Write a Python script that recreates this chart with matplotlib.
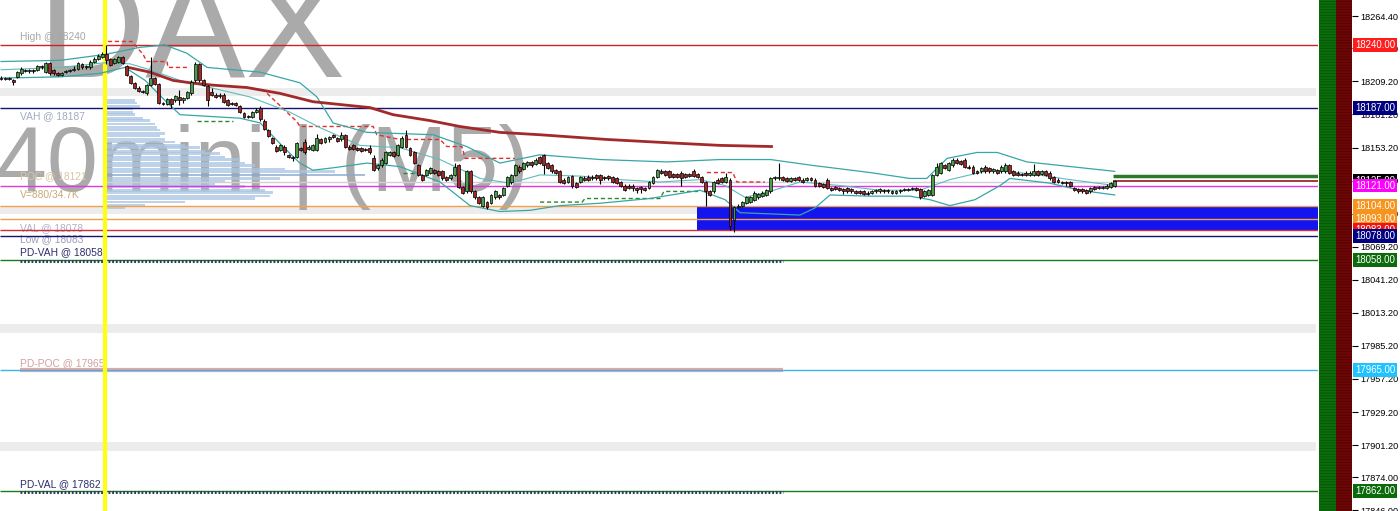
# coding: utf-8
import numpy as np
import matplotlib
matplotlib.use('Agg')
import matplotlib.pyplot as plt
import matplotlib.transforms as mtransforms
from matplotlib.patches import Rectangle

plt.rcParams['font.family'] = ['Liberation Sans', 'DejaVu Sans']
plt.rcParams['hatch.linewidth'] = 0.6

# ---- M5 candles (bar index 0..275) ----
opens = [
    18212, 18211, 18212, 18210, 18213, 18216, 18219, 18218, 18219, 18219,
    18222, 18217, 18225, 18219, 18216, 18215, 18217, 18218, 18219, 18220,
    18224, 18221, 18221, 18226, 18228, 18230, 18232, 18228, 18225, 18226,
    18230, 18222, 18214, 18208, 18204, 18201, 18199, 18206, 18212, 18207,
    18191, 18190, 18194, 18193, 18196, 18193, 18195, 18199, 18210, 18224,
    18210, 18205, 18200, 18198, 18197, 18198, 18193, 18191, 18191, 18188,
    18182, 18180, 18179, 18183, 18187, 18176, 18168, 18161, 18154, 18151,
    18154, 18147, 18145, 18145, 18153, 18158, 18152, 18151, 18151, 18160,
    18158, 18160, 18164, 18161, 18160, 18164, 18154, 18155, 18153, 18153,
    18152, 18153, 18144, 18136, 18138, 18140, 18147, 18149, 18147, 18154,
    18164, 18153, 18149, 18138, 18130, 18130, 18132, 18134, 18133, 18133,
    18128, 18127, 18130, 18138, 18120, 18116, 18133, 18116, 18111, 18104,
    18107, 18106, 18111, 18113, 18113, 18121, 18124, 18130, 18137, 18135,
    18138, 18141, 18139, 18145, 18147, 18140, 18138, 18134, 18133, 18126,
    18124, 18129, 18123, 18124, 18127, 18128, 18127, 18130, 18130, 18128,
    18129, 18128, 18127, 18124, 18121, 18121, 18121, 18119, 18120, 18119,
    18119, 18123, 18128, 18133, 18133, 18133, 18131, 18131, 18132, 18131,
    18131, 18133, 18131, 18128, 18124, 18116, 18116, 18126, 18127, 18124,
    18126, 18092, 18103, 18104, 18106, 18107, 18109, 18111, 18112, 18113,
    18116, 18127, 18127, 18128, 18127, 18125, 18127, 18128, 18126, 18126,
    18127, 18126, 18123, 18122, 18126, 18119, 18120, 18119, 18118, 18119,
    18118, 18116, 18116, 18116, 18115, 18115, 18116, 18116, 18117, 18116,
    18116, 18115, 18116, 18117, 18117, 18118, 18119, 18118, 18112, 18113,
    18113, 18130, 18132, 18138, 18134, 18138, 18143, 18142, 18143, 18137,
    18137, 18133, 18133, 18137, 18136, 18133, 18134, 18133, 18133, 18138,
    18133, 18132, 18131, 18132, 18130, 18130, 18133, 18131, 18133, 18132,
    18128, 18126, 18124, 18124, 18124, 18119, 18118, 18118, 18117, 18116,
    18120, 18119, 18119, 18119, 18120, 18121]
closes = [
    18211, 18212, 18211, 18209, 18217, 18220, 18218, 18219, 18218, 18222,
    18221, 18225, 18216, 18216, 18215, 18216, 18218, 18219, 18220, 18225,
    18221, 18222, 18226, 18228, 18231, 18232, 18227, 18223, 18228, 18230,
    18225, 18215, 18208, 18204, 18201, 18200, 18206, 18212, 18207, 18191,
    18190, 18194, 18190, 18197, 18193, 18195, 18200, 18209, 18224, 18210,
    18206, 18193, 18198, 18196, 18198, 18192, 18189, 18190, 18189, 18183,
    18179, 18179, 18183, 18185, 18177, 18169, 18163, 18157, 18150, 18155,
    18149, 18145, 18144, 18157, 18151, 18149, 18154, 18155, 18161, 18157,
    18161, 18162, 18162, 18159, 18164, 18154, 18152, 18152, 18151, 18150,
    18151, 18149, 18134, 18138, 18143, 18149, 18149, 18146, 18155, 18161,
    18154, 18147, 18140, 18130, 18126, 18134, 18136, 18132, 18130, 18127,
    18126, 18130, 18137, 18120, 18115, 18133, 18116, 18111, 18106, 18111,
    18103, 18113, 18116, 18111, 18119, 18128, 18130, 18138, 18133, 18140,
    18141, 18138, 18143, 18140, 18138, 18136, 18133, 18132, 18124, 18123,
    18128, 18121, 18120, 18128, 18126, 18126, 18128, 18127, 18126, 18127,
    18127, 18124, 18123, 18121, 18117, 18119, 18119, 18117, 18118, 18117,
    18124, 18128, 18134, 18132, 18130, 18128, 18128, 18128, 18127, 18128,
    18129, 18129, 18128, 18124, 18116, 18113, 18124, 18123, 18124, 18128,
    18087, 18103, 18104, 18107, 18111, 18111, 18115, 18114, 18115, 18117,
    18127, 18128, 18128, 18126, 18125, 18127, 18126, 18126, 18124, 18127,
    18126, 18121, 18121, 18120, 18119, 18117, 18118, 18117, 18116, 18116,
    18116, 18115, 18115, 18114, 18114, 18116, 18117, 18118, 18116, 18117,
    18115, 18116, 18117, 18118, 18118, 18119, 18117, 18111, 18116, 18117,
    18130, 18137, 18140, 18136, 18140, 18143, 18140, 18139, 18137, 18136,
    18132, 18132, 18136, 18133, 18133, 18135, 18132, 18137, 18138, 18132,
    18130, 18130, 18130, 18130, 18132, 18133, 18130, 18133, 18130, 18127,
    18124, 18124, 18123, 18123, 18121, 18117, 18116, 18116, 18115, 18119,
    18118, 18120, 18120, 18121, 18123, 18125]
highs = [
    18214, 18213, 18213, 18211, 18218, 18221, 18220, 18220, 18220, 18223,
    18223, 18226, 18226, 18220, 18217, 18217, 18219, 18220, 18222, 18226,
    18225, 18223, 18227, 18230, 18232, 18234, 18240, 18229, 18229, 18231,
    18231, 18223, 18215, 18209, 18205, 18202, 18207, 18230, 18213, 18208,
    18192, 18195, 18195, 18198, 18202, 18196, 18201, 18210, 18226, 18225,
    18211, 18206, 18204, 18199, 18199, 18199, 18194, 18192, 18192, 18189,
    18183, 18181, 18184, 18187, 18188, 18177, 18169, 18162, 18155, 18156,
    18155, 18148, 18146, 18158, 18154, 18160, 18155, 18156, 18165, 18161,
    18162, 18163, 18165, 18162, 18166, 18165, 18155, 18156, 18154, 18154,
    18153, 18155, 18147, 18139, 18144, 18150, 18150, 18150, 18156, 18163,
    18168, 18154, 18150, 18139, 18131, 18135, 18137, 18135, 18134, 18134,
    18129, 18131, 18140, 18139, 18121, 18134, 18134, 18117, 18112, 18112,
    18108, 18114, 18117, 18114, 18120, 18129, 18131, 18139, 18138, 18141,
    18142, 18142, 18144, 18146, 18148, 18141, 18139, 18135, 18134, 18127,
    18129, 18130, 18124, 18129, 18129, 18130, 18130, 18131, 18131, 18129,
    18130, 18129, 18128, 18125, 18122, 18122, 18122, 18120, 18121, 18120,
    18125, 18129, 18135, 18135, 18134, 18134, 18132, 18132, 18133, 18132,
    18132, 18135, 18132, 18129, 18125, 18117, 18125, 18127, 18128, 18132,
    18127, 18104, 18105, 18108, 18112, 18112, 18116, 18115, 18116, 18118,
    18128, 18129, 18140, 18129, 18128, 18128, 18128, 18129, 18127, 18128,
    18128, 18127, 18124, 18123, 18127, 18120, 18121, 18120, 18119, 18120,
    18119, 18117, 18117, 18117, 18116, 18117, 18118, 18119, 18118, 18118,
    18117, 18117, 18118, 18119, 18119, 18120, 18120, 18119, 18117, 18118,
    18131, 18140, 18141, 18139, 18141, 18144, 18144, 18143, 18144, 18138,
    18138, 18134, 18137, 18138, 18137, 18136, 18135, 18138, 18140, 18139,
    18134, 18133, 18132, 18133, 18133, 18139, 18134, 18134, 18134, 18133,
    18129, 18127, 18125, 18125, 18125, 18120, 18119, 18119, 18118, 18120,
    18121, 18121, 18121, 18122, 18124, 18126]
lows = [
    18210, 18210, 18210, 18206, 18212, 18215, 18217, 18216, 18216, 18218,
    18220, 18216, 18215, 18215, 18214, 18214, 18216, 18217, 18218, 18219,
    18220, 18220, 18220, 18225, 18227, 18229, 18224, 18222, 18224, 18225,
    18224, 18214, 18207, 18203, 18200, 18199, 18198, 18205, 18206, 18190,
    18189, 18189, 18187, 18192, 18189, 18191, 18194, 18198, 18209, 18209,
    18205, 18188, 18197, 18195, 18195, 18191, 18188, 18189, 18188, 18182,
    18178, 18178, 18178, 18182, 18176, 18168, 18162, 18156, 18149, 18150,
    18147, 18144, 18142, 18144, 18150, 18148, 18151, 18150, 18150, 18156,
    18157, 18158, 18161, 18158, 18159, 18153, 18151, 18151, 18150, 18149,
    18150, 18148, 18133, 18134, 18137, 18139, 18146, 18145, 18146, 18153,
    18153, 18146, 18139, 18129, 18125, 18129, 18131, 18131, 18129, 18126,
    18125, 18126, 18129, 18119, 18114, 18115, 18115, 18110, 18105, 18103,
    18101, 18105, 18110, 18110, 18112, 18120, 18122, 18129, 18132, 18134,
    18137, 18137, 18138, 18139, 18131, 18135, 18132, 18131, 18123, 18122,
    18123, 18119, 18119, 18123, 18125, 18125, 18126, 18126, 18122, 18126,
    18126, 18123, 18122, 18120, 18116, 18118, 18116, 18115, 18115, 18116,
    18118, 18122, 18127, 18131, 18129, 18127, 18127, 18127, 18121, 18127,
    18128, 18128, 18127, 18123, 18104, 18112, 18115, 18122, 18123, 18123,
    18083, 18082, 18102, 18103, 18105, 18106, 18108, 18110, 18111, 18112,
    18115, 18126, 18126, 18125, 18124, 18124, 18125, 18125, 18123, 18125,
    18125, 18120, 18120, 18119, 18118, 18116, 18117, 18116, 18114, 18115,
    18115, 18114, 18114, 18113, 18113, 18114, 18115, 18115, 18115, 18115,
    18114, 18114, 18115, 18116, 18116, 18117, 18116, 18110, 18111, 18112,
    18112, 18129, 18131, 18135, 18133, 18137, 18139, 18138, 18136, 18135,
    18131, 18131, 18132, 18132, 18132, 18132, 18131, 18132, 18132, 18131,
    18129, 18129, 18129, 18129, 18129, 18129, 18129, 18130, 18129, 18126,
    18123, 18123, 18122, 18121, 18120, 18116, 18115, 18115, 18114, 18115,
    18117, 18118, 18118, 18118, 18119, 18120]

# ---- indicators: (bar index, price) ----
bb_up_x = [0, 14.6, 25.7, 34.3, 40.5, 45.9, 50.9, 64, 73.8, 78, 82, 90.4, 106.7, 115, 123.2,
           133, 148, 164.4, 177.5, 190, 200.5, 214.6, 224.4, 228.6, 233.6, 241, 246, 253.3, 261.5, 275]
bb_up_y = [18226, 18227, 18232, 18238, 18240, 18233, 18221, 18217, 18208, 18196, 18174, 18166, 18164, 18154, 18140,
           18147, 18143, 18141, 18143, 18143, 18138, 18132, 18127, 18127, 18144, 18149, 18149, 18141, 18138, 18133]
bb_mid_x = [0, 14.6, 25.7, 31.9, 36.8, 44.2, 51.6, 61.5, 71.4, 78.8, 88.6, 98.5, 108.4, 118.3, 125.7, 133.1,
            143, 152.8, 162.7, 172.6, 178.8, 183.7, 189.9, 197.3, 207.2, 217, 226.9, 234.3, 244.2, 254.1, 264, 275]
bb_mid_y = [18219, 18221, 18225, 18224, 18219, 18210, 18204, 18196, 18183, 18170, 18155, 18153, 18143, 18127, 18123, 18130,
            18129, 18126, 18124, 18126, 18121, 18111, 18116, 18124, 18121, 18117, 18117, 18126, 18134, 18131, 18126, 18121]
bb_lo_x = [0, 14.6, 24.4, 30.6, 35.6, 40.5, 44.2, 59, 64, 69.6, 73.8, 77, 82, 90.4, 98.5, 108.4, 115.8, 123.2, 130.6,
           138, 147.9, 160.2, 172.6, 178.8, 182.5, 197.3, 201, 204.7, 214.6, 224.4, 229.4, 234.3, 240.5, 246.7, 249.1,
           259, 266.4, 275]
bb_lo_y = [18212, 18213, 18216, 18221, 18210, 18193, 18181, 18178, 18174, 18154, 18140, 18134, 18136, 18140, 18137,
           18124, 18104, 18099, 18100, 18104, 18106, 18110, 18117, 18109, 18098, 18096, 18102, 18113, 18112, 18112,
           18109, 18104, 18109, 18121, 18127, 18123, 18117, 18113]
ma_x = [31.4, 36.8, 42.5, 46.7, 52.3, 60.7, 68.9, 77, 85.4, 91.1, 96.8, 105.9, 113.3, 123.2, 133.1, 149.6, 165.9, 177.5, 190.6]
ma_y = [18221, 18217, 18210, 18208, 18206, 18204, 18199, 18192, 18189, 18187, 18181, 18176, 18171, 18166, 18164, 18160,
        18157, 18155, 18154]
red_steps = [
    ([26.4, 32.3, 35.1, 36, 41, 41.2, 45.9], [18243, 18243, 18232, 18226, 18226, 18221, 18221]),
    ([65.7, 73.1, 73.8, 91.9, 92.8, 98.5, 108.4, 110.1, 113.8, 114.6, 126.9],
     [18199, 18175, 18171, 18171, 18164, 18160, 18160, 18154, 18154, 18144, 18144]),
    ([174.3, 180.7, 181.7, 188.6], [18132, 18132, 18124, 18124]),
]
green_steps = [
    ([48.4, 57.3], [18176, 18176]),
    ([99.3, 102.2], [18132, 18132]),
    ([133.1, 143.5, 144.2, 162.7, 163.7, 172.6], [18107, 18107, 18110, 18110, 18116, 18116]),
]

# ---- volume profile (session start bar 25.7) ----
prof_price = [18193, 18191, 18188, 18186, 18183, 18181, 18178, 18176, 18173, 18170, 18168, 18165, 18163,
              18160, 18158, 18155, 18153, 18150, 18148, 18145, 18143, 18140, 18138, 18135, 18133, 18130,
              18127, 18125, 18122, 18120, 18117, 18115, 18112, 18110, 18107, 18104, 18102]
prof_vol = [30, 32, 35, 28, 28, 30, 38, 45, 50, 52, 55, 60, 55, 60, 70, 80, 95, 100, 115, 120, 135, 140,
            150, 180, 230, 260, 175, 120, 110, 140, 160, 168, 165, 150, 80, 40, 20]

# ---- levels ----
full_levels = [18240, 18187, 18121, 18104, 18093, 18083, 18078, 18058, 17965, 17862]
full_colors = ['#cc2424', '#14146e', '#e236e2', '#f0a04b', '#f0a04b', '#d42a3a', '#14146e',
               '#1e7a1e', '#3cb4e6', '#1e7a1e']
band_levels = [18200, 18100, 18000, 17900]
zone_low, zone_mid, zone_high = 18083, 18093, 18104
ask_price, bid_price = 18129, 18125

left_labels = [
    ('High @ 18240', 18240, 8, '#a8a8a8'),
    ('VAH @ 18187', 18187, -9, '#a3abc2'),
    ('POC @ 18121', 18121, 9, '#d8c6a4'),
    ('V=880/34.7K', 18121, -9, '#c8a878'),
    ('VAL @ 18078', 18078, 8, '#b0b0c8'),
    ('Low @ 18083', 18083, -9, '#9c9cba'),
    ('PD-VAH @ 18058', 18058, 8, '#2e2e6e'),
    ('PD-POC @ 17965', 17965, 7, '#d4a0a0'),
    ('PD-VAL @ 17862', 17862, 7, '#2e2e6e'),
]

tick_vals = [18264.4, 18237.2, 18209.2, 18181.2, 18153.2, 18125.2, 18097.2, 18069.2, 18041.2,
             18013.2, 17985.2, 17957.2, 17929.2, 17901.2, 17874.0, 17846.0]
axis_labels = [(18125, '#000000'), (18121, '#ff00ff'), (18104, '#f7941d'), (18093, '#f7941d'),
               (18083, '#ee1414'), (18078, '#000080'), (18240, '#ff1c1c'), (18187, '#000080'),
               (18058, '#0b6b0b'), (17965, '#1ec3ff'), (17862, '#0b6b0b')]

W, H = 1400, 511
PXB = 4.05  # pixels per bar
fig = plt.figure(figsize=(W / 100, H / 100), dpi=100)
fig.patch.set_facecolor('white')
ax = fig.add_axes([0, 0, 1318 / W, 1])
x_end = 325.2
ax.set_xlim(-0.25, x_end)
ax.set_ylim(17845.4, 18278.1)
ax.axis('off')

# watermark
ax.text(38 / 1318, 1 - 78 / H, 'DAX', transform=ax.transAxes, fontsize=108, color='#aaaaaa',
        va='baseline', ha='left', zorder=0.5, clip_on=True)
ax.text(-4 / 1318, 1 - 191 / H, '40mini | (M5)', transform=ax.transAxes, fontsize=66, color='#aaaaaa',
        va='baseline', ha='left', zorder=0.5, clip_on=True)

for lv in band_levels:
    ax.axhspan(lv - 3.5, lv + 3.5, xmin=0, xmax=1316 / 1318, color='#ececec', lw=0, zorder=0.2)

# volume profile
pcol = ['#86a9d0' if v == max(prof_vol) else '#a9c4e2' for v in prof_vol]
ax.barh(prof_price, np.array(prof_vol) / PXB, left=25.7, height=2.2, color=pcol, alpha=0.75,
        lw=0, zorder=1)

# value-area zone
ax.add_patch(Rectangle((171.9, zone_mid), x_end - 171.9, zone_high - zone_mid, color='#1414ee', lw=0, zorder=1.5))
ax.add_patch(Rectangle((171.9, zone_low), x_end - 171.9, zone_mid - zone_low, color='#1414ee', lw=0, zorder=1.5))

for lv, col in zip(full_levels, full_colors):
    ax.hlines(lv, -0.25, x_end, color=col, lw=1.0, zorder=2)

# previous-day levels
ax.hlines(17965, 4.7, 193.1, color='#e2a8a8', lw=3.0, zorder=1.9)
for lv in (18058, 17862):
    ax.hlines(lv - 0.6, 4.7, 193.1, color='#2a405a', lw=2.2, linestyles=(0, (0.6, 0.6)), zorder=2.1)

ax.hlines(18124, 25.7, 274.6, color='#d0d0d0', lw=1.0, zorder=1.8)
ax.hlines(ask_price, 274.6, x_end, color='#2a7a2a', lw=2.5, zorder=2.2)
ax.hlines(bid_price, 274.6, x_end, color='#9b2c2c', lw=1.3, zorder=2.2)

ax.axvline(25.7, color='#ffff14', lw=3, zorder=2.6)

# indicators
ax.plot(bb_up_x, bb_up_y, color='#38a6a6', lw=0.9, zorder=2.8)
ax.plot(bb_lo_x, bb_lo_y, color='#38a6a6', lw=0.9, zorder=2.8)
ax.plot(bb_mid_x, bb_mid_y, color='#5fbcbc', lw=0.8, zorder=2.8)
ax.plot(ma_x, ma_y, color='#a32a2a', lw=2.0, zorder=2.9, solid_capstyle='butt')
for xs, ys in red_steps:
    ax.plot(xs, ys, color='#dd3030', lw=1.0, ls=(0, (3, 2)), zorder=2.7)
for xs, ys in green_steps:
    ax.plot(xs, ys, color='#2a8a2a', lw=1.0, ls=(0, (3, 2)), zorder=2.7)

# candles
o = np.array(opens, float)
c = np.array(closes, float)
hi = np.array(highs, float)
lo = np.array(lows, float)
idx = np.arange(len(c))
up = c >= o
ax.vlines(idx, lo, hi, color='black', lw=0.8, zorder=3.1)
ax.bar(idx, np.maximum(np.abs(c - o), 0.6), bottom=np.minimum(o, c), width=0.72,
       color=np.where(up, '#4a9e4a', '#a32828'), edgecolor='black', linewidth=0.5, zorder=3.2)

for txt, lv, dy, col in left_labels:
    ax.annotate(txt, xy=(4.7, lv), xytext=(0, dy), textcoords='offset pixels', va='center', ha='left',
                fontsize=7.4, color=col, zorder=0.9)

# right columns + price axis
ax2 = fig.add_axes([1319 / W, 0, 33 / W, 1])
ax2.set_xlim(0, 1)
ax2.set_ylim(ax.get_ylim())
ax2.axvspan(0, 17 / 33, facecolor='#0b6e0b', edgecolor='#075407', hatch='------', lw=0)
ax2.axvspan(17 / 33, 1, facecolor='#6e0606', edgecolor='#520303', hatch='------', lw=0)
for s in ax2.spines.values():
    s.set_visible(False)
ax2.set_xticks([])
ax2.yaxis.tick_right()
ax2.set_yticks(tick_vals)
ax2.set_yticklabels(['%.2f' % v for v in tick_vals])
ax2.tick_params(axis='y', length=4, width=0.8, pad=2, labelsize=6.6, colors='black')

trans = mtransforms.blended_transform_factory(ax2.transAxes, ax2.transData)
for k, (lv, bg) in enumerate(axis_labels):
    ax2.text(1.1, lv, '%.2f' % lv, transform=trans, ha='left', va='center', fontsize=6.9, color='white',
             bbox=dict(boxstyle='square,pad=0.2', fc=bg, ec='none'), zorder=5 + k, clip_on=False)

fig.savefig('out.png', dpi=100, facecolor='white')
